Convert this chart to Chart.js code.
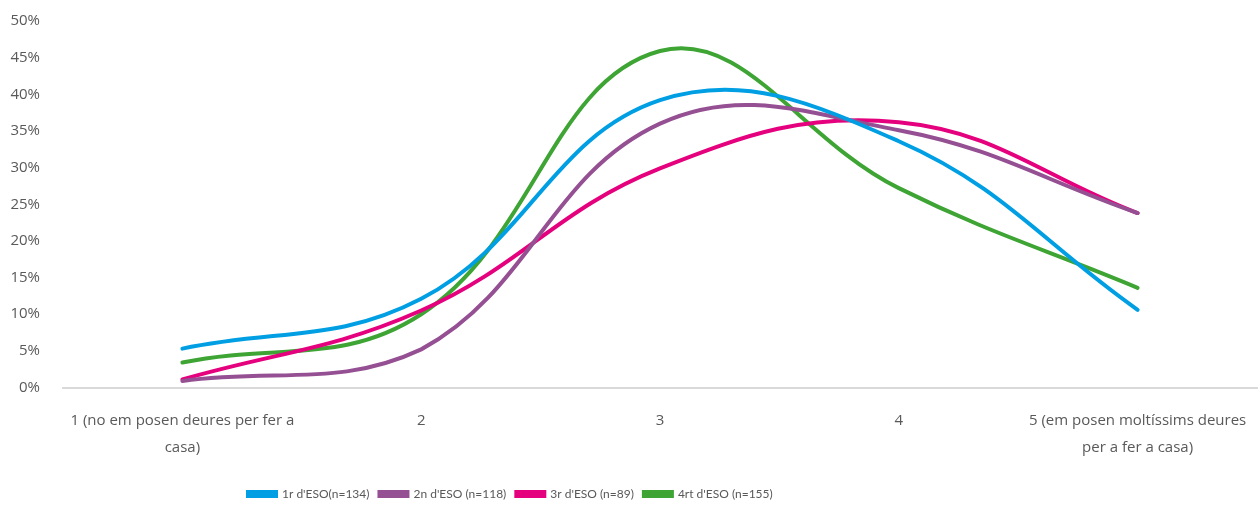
<html>
<head>
    <meta charset="utf-8" />
    <title>Deures per fer a casa</title>
    <script src="https://cdn.jsdelivr.net/npm/chart.js@4.4.0/dist/chart.umd.min.js"></script>
    <style>
        html, body {
            margin: 0;
            padding: 0;
            background: #fff;
        }
        #wrap {
            width: 1259px;
            height: 508px;
        }
    </style>
</head>
<body>
<div id="wrap"><canvas id="chart"></canvas></div>
<script>
    // categories (multi-line labels)
    const categories = [
        ["1 (no em posen deures per fer a", "casa)"],
        "2",
        "3",
        "4",
        ["5 (em posen moltíssims deures", "per a fer a casa)"]
    ];
    // percentages per course
    const eso1 = [5.3, 12.1, 39.2, 33.6, 10.6];
    const eso2 = [0.9, 5.2, 36.0, 35.1, 23.8];
    const eso3 = [1.1, 10.5, 29.9, 36.2, 23.8];
    const eso4 = [3.4, 10.0, 45.9, 27.2, 13.6];
    const seriesNames = ["1r d'ESO(n=134)", "2n d'ESO (n=118)", "3r d'ESO (n=89)", "4rt d'ESO (n=155)"];
    const seriesColors = ["#009FE3", "#954F93", "#E5007E", "#3EA535"];
    const yTicks = [0, 5, 10, 15, 20, 25, 30, 35, 40, 45, 50];

    const textColor = "#595959";
    const family = "'Open Sans', sans-serif";

    const allSeries = [eso1, eso2, eso3, eso4];
    const datasets = allSeries.map((vals, i) => ({
        label: seriesNames[i],
        data: vals,
        borderColor: seriesColors[i],
        backgroundColor: seriesColors[i],
        borderWidth: 4,
        borderCapStyle: "round",
        pointRadius: 0,
        tension: 0.4,
        fill: false
    }));

    // legend in the source sits left of centre
    const legendShift = {
        id: "legendShift",
        afterLayout(chart) {
            chart.legend.left = 238;
        }
    };

    new Chart(document.getElementById("chart"), {
        type: "line",
        data: { labels: categories, datasets: datasets },
        plugins: [legendShift],
        options: {
            responsive: true,
            maintainAspectRatio: false,
            animation: false,
            layout: { padding: { left: 3, right: 2, top: 0, bottom: -2 } },
            plugins: {
                legend: {
                    position: "bottom",
                    align: "start",
                    labels: {
                        color: textColor,
                        font: { family: "Lato, sans-serif", size: 12 },
                        boxWidth: 28,
                        boxHeight: 4,
                        padding: 10
                    }
                },
                tooltip: { enabled: false }
            },
            scales: {
                x: {
                    offset: true,
                    grid: { display: false },
                    border: { display: true, color: "#d9d9d9", width: 2 },
                    afterFit: (scale) => { scale.height += 5; },
                    ticks: {
                        color: textColor,
                        font: { family: family, size: 15, lineHeight: 1.85 },
                        maxRotation: 0,
                        autoSkip: false,
                        padding: 11
                    }
                },
                y: {
                    min: 0,
                    max: 50,
                    grid: { display: false },
                    border: { display: false },
                    afterBuildTicks: (axis) => { axis.ticks = yTicks.map(v => ({ value: v })); },
                    afterFit: (scale) => {
                        scale.width = 60;
                        scale.paddingTop = Math.max(0, scale.paddingTop - 3);
                    },
                    ticks: {
                        color: textColor,
                        font: { family: family, size: 15 },
                        padding: 15,
                        callback: (v) => v + "%"
                    }
                }
            }
        }
    });
</script>
</body>
</html>
